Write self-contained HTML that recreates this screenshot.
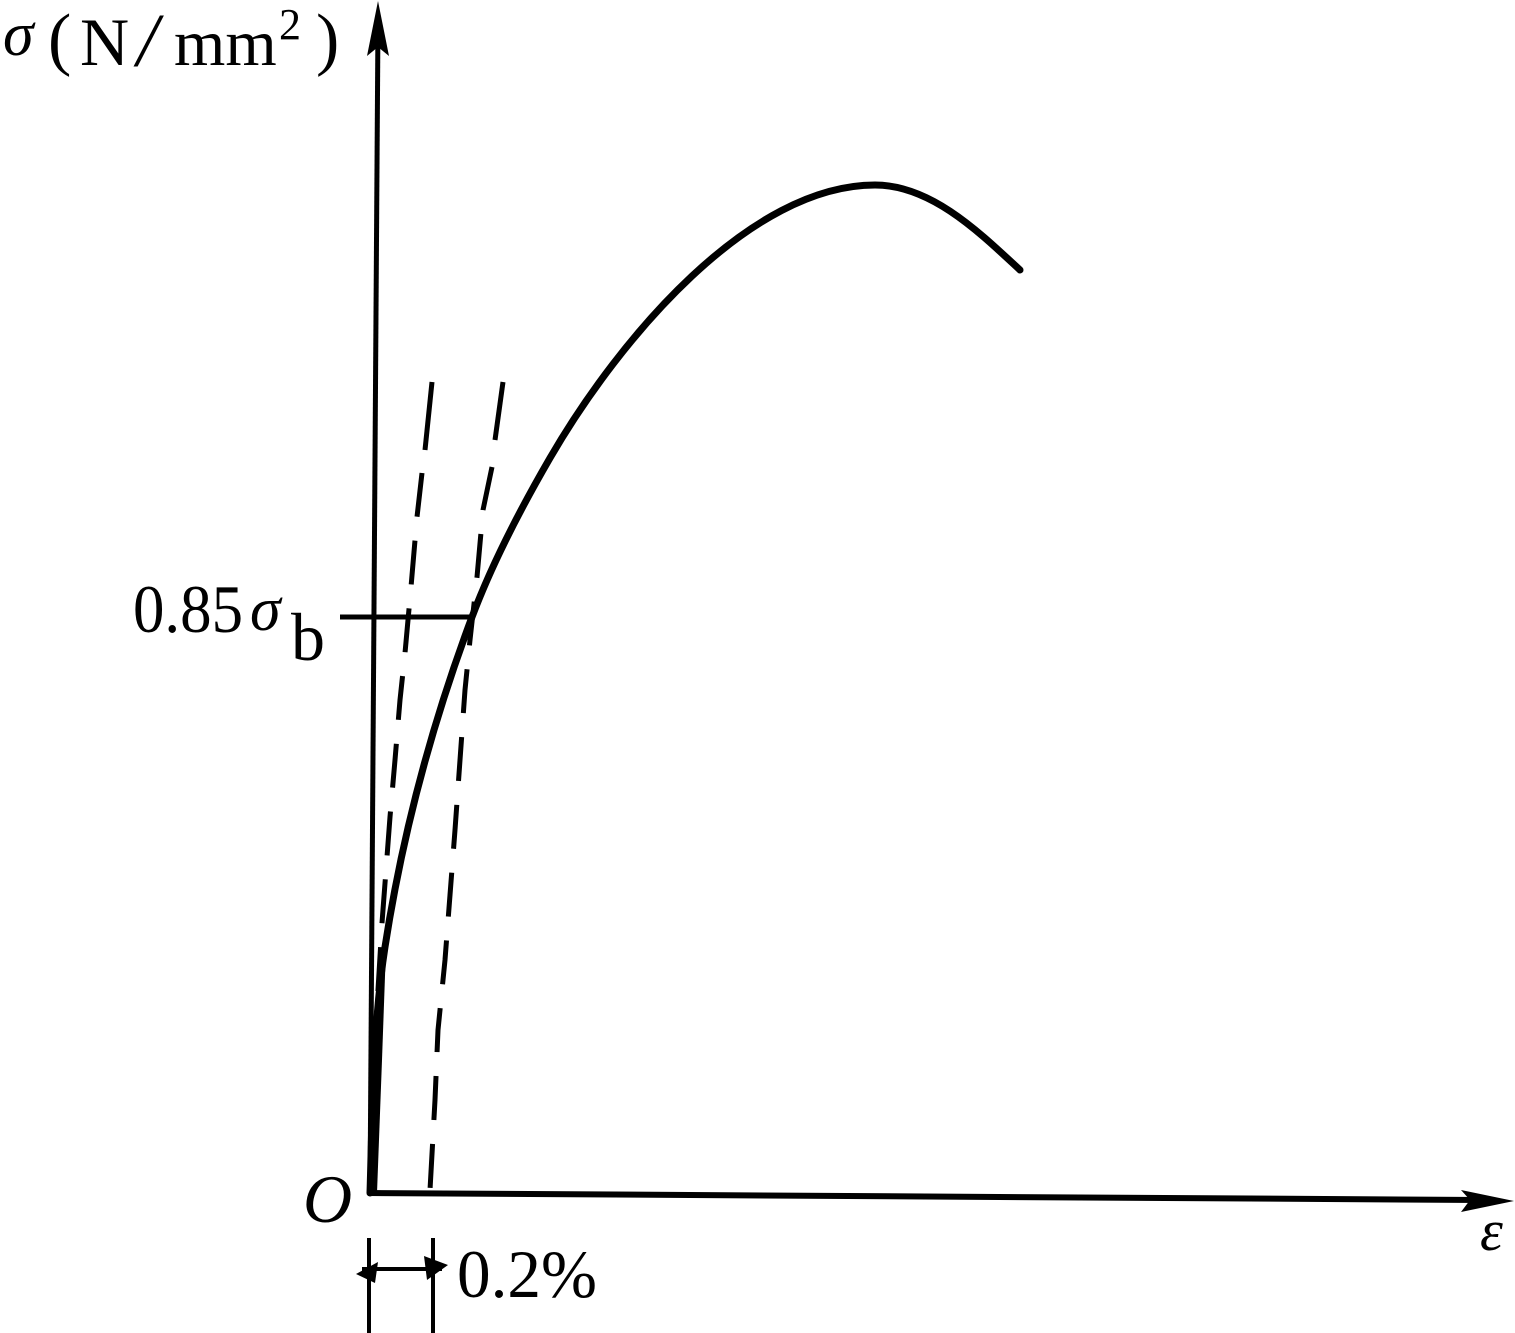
<!DOCTYPE html>
<html>
<head>
<meta charset="utf-8">
<style>
  html, body { margin:0; padding:0; background:#fff; }
  body { width:1515px; height:1333px; overflow:hidden; }
  svg { display:block; }
  text { font-family: "Liberation Serif", "DejaVu Serif", serif; fill:#000; }
</style>
</head>
<body>
<svg width="1515" height="1333" viewBox="0 0 1515 1333" xmlns="http://www.w3.org/2000/svg">
  <rect x="0" y="0" width="1515" height="1333" fill="#fff"/>

  <!-- Y axis -->
  <line x1="378" y1="20" x2="370" y2="1194" stroke="#000" stroke-width="5"/>
  <polygon points="378,1 389,56 378,47 367,56" fill="#000"/>

  <!-- X axis -->
  <line x1="368" y1="1193" x2="1480" y2="1200" stroke="#000" stroke-width="6"/>
  <polygon points="1514,1201 1461,1190 1470,1200 1461,1212" fill="#000"/>

  <!-- 0.85 sigma_b horizontal line -->
  <line x1="340" y1="617" x2="472" y2="617" stroke="#000" stroke-width="5"/>

  <!-- Left dashed line -->
  <polyline points="432,382 425,450" fill="none" stroke="#000" stroke-width="5"/>
  <polyline points="422,473 417,517 411,587 405,653 400,700 395,760 390,817 386,870 382,923 378,990 375,1060 372,1190"
            fill="none" stroke="#000" stroke-width="5" stroke-dasharray="44 24"/>

  <!-- Right dashed line -->
  <polyline points="503,382 495,440" fill="none" stroke="#000" stroke-width="5"/>
  <polyline points="492,467 483,510 477,577 470,640 465,690 460,760 455,830 450,895 445,960 438,1030 435,1100 430,1190"
            fill="none" stroke="#000" stroke-width="5" stroke-dasharray="44 24"/>

  <!-- Main stress-strain curve (smooth) -->
  <path d="M370,1193 C372.5,1111 372.5,1028 385,947 C402.3,834.4 432,723.7 472,617 C492.7,561.8 520.4,509 550,458 C620.3,336.9 750,185 875,185 C931,185 979,231.9 1020,270"
        fill="none" stroke="#000" stroke-width="7" stroke-linejoin="round" stroke-linecap="round"/>
  <!-- thickening near origin -->
  <polygon points="368,1193 372,1050 380,950 386,948 382,1060 377,1193" fill="#000"/>

  <!-- dimension marks at bottom -->
  <line x1="369" y1="1238" x2="369" y2="1333" stroke="#000" stroke-width="4"/>
  <line x1="433" y1="1238" x2="433" y2="1333" stroke="#000" stroke-width="4"/>
  <line x1="362" y1="1269" x2="442" y2="1269" stroke="#000" stroke-width="4"/>
  <polygon points="356,1274 378,1262 375,1283" fill="#000"/>
  <polygon points="448,1265 424,1256 427,1280" fill="#000"/>

  <!-- Y label -->
  <text x="3" y="55" font-size="62" font-style="italic">σ</text>
  <text x="48" y="62" font-size="70">(</text>
  <text x="80" y="65" font-size="68">N</text>
  <text x="137" y="66" font-size="76" font-style="italic">/</text>
  <text x="174" y="65" font-size="66">mm</text>
  <text x="279" y="39" font-size="44">2</text>
  <text x="316" y="62" font-size="70">)</text>

  <!-- 0.85 sigma_b label -->
  <text x="133" y="632" font-size="68" textLength="110" lengthAdjust="spacingAndGlyphs">0.85</text>
  <text x="250" y="630" font-size="62" font-style="italic">σ</text>
  <text x="291" y="660" font-size="68">b</text>

  <!-- origin label -->
  <text x="303" y="1222" font-size="68" font-style="italic">O</text>

  <!-- 0.2% label -->
  <text x="457" y="1297" font-size="68" textLength="140" lengthAdjust="spacingAndGlyphs">0.2%</text>

  <!-- epsilon -->
  <text x="1480" y="1250" font-size="58" font-style="italic">ε</text>
</svg>
</body>
</html>
